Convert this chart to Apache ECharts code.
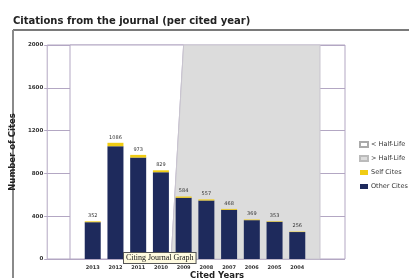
<!DOCTYPE html>
<html>
<head>
<meta charset="utf-8">
<script src="https://cdn.jsdelivr.net/npm/echarts@6/dist/echarts.min.js"></script>
<style>
  html, body { margin: 0; padding: 0; background: #fff; }
  #chart { width: 409px; height: 278px; }
</style>
</head>
<body>
<div id="chart"></div>
<script>
  // cited years, left to right
  const years = ['2013', '2012', '2011', '2010', '2009', '2008', '2007', '2006', '2005', '2004'];
  const otherCites = [344, 1054, 948, 811, 572, 547, 460, 363, 348, 252];
  const selfCites = [8, 32, 25, 18, 12, 10, 8, 6, 5, 4];
  const yTicks = { min: 0, max: 2000, interval: 400 };
  // half-life boundary (in cited-year index units): at the bottom and at the top
  const halfLifeEdge = [3.45, 4.0];
  const xRange = [-1, 10];

  const totals = otherCites.map((v, i) => v + selfCites[i]);
  // blank slot on each side of the years, as in the original graph
  const slots = [''].concat(years, ['']);
  const gridColor = '#b3a7c3';

  let chart = echarts.init(document.getElementById('chart'));

  function halfLifeArea(side) {
    return function (params, api) {
      let b = api.value(0), t = api.value(1);
      let pts = side === 'lt'
        ? [[xRange[0], yTicks.min], [xRange[0], yTicks.max], [t, yTicks.max], [b, yTicks.min]]
        : [[b, yTicks.min], [t, yTicks.max], [xRange[1], yTicks.max], [xRange[1], yTicks.min]];
      return {
        type: 'polygon',
        shape: { points: pts.map(p => api.coord(p)) },
        style: {
          fill: side === 'lt' ? '#ffffff' : '#dcdcdc',
          stroke: side === 'lt' ? gridColor : '#c9c5cf',
          lineWidth: 1
        }
      };
    };
  }

  let option = {
    animation: false,
    textStyle: { fontFamily: 'DejaVu Sans' },
    legend: {
      orient: 'vertical',
      left: 354,
      top: 136,
      itemWidth: 8,
      itemHeight: 5,
      itemGap: 7,
      icon: 'rect',
      textStyle: { fontSize: 6.5, color: '#333', padding: [0, 0, 0, -2] },
      data: ['< Half-Life', '> Half-Life', 'Self Cites', 'Other Cites']
    },
    grid: [
      { left: 47, top: 45, width: 298, height: 214, show: true, borderColor: gridColor, borderWidth: 1, backgroundColor: '#fff' },
      { left: 70, top: 45, width: 250, height: 214 }
    ],
    xAxis: [
      { gridIndex: 0, type: 'value', min: 0, max: 1, show: false },
      { gridIndex: 1, type: 'value', position: 'top', min: xRange[0], max: xRange[1], show: false },
      {
        gridIndex: 1, type: 'category', position: 'bottom', data: slots, boundaryGap: false,
        axisLine: { show: false }, axisTick: { show: false }, splitLine: { show: false },
        axisLabel: { margin: 6, fontSize: 5, fontWeight: 'bold', color: '#333', interval: 0 }
      }
    ],
    yAxis: [
      {
        gridIndex: 0, type: 'value', min: yTicks.min, max: yTicks.max, interval: yTicks.interval,
        name: 'Number of Cites', nameLocation: 'middle', nameGap: 28,
        nameTextStyle: { fontSize: 8.5, fontWeight: 'bold', color: '#222' },
        axisLine: { show: false },
        axisTick: { show: true, length: 3, lineStyle: { color: gridColor } },
        splitLine: { lineStyle: { color: gridColor, width: 1 } },
        axisLabel: { margin: 4, fontSize: 5.5, fontWeight: 'bold', color: '#333', formatter: v => String(v) }
      },
      { gridIndex: 1, type: 'value', min: yTicks.min, max: yTicks.max, show: false }
    ],
    series: [
      {
        name: '< Half-Life', type: 'custom', xAxisIndex: 1, yAxisIndex: 1,
        itemStyle: { color: '#ffffff', borderColor: '#aaa', borderWidth: 0.6 },
        renderItem: halfLifeArea('lt'),
        data: [halfLifeEdge], z: 1
      },
      {
        name: '> Half-Life', type: 'custom', xAxisIndex: 1, yAxisIndex: 1,
        itemStyle: { color: '#dcdcdc', borderColor: '#bbb', borderWidth: 0.6 },
        renderItem: halfLifeArea('gt'),
        data: [halfLifeEdge], z: 1
      },
      {
        name: 'Other Cites', type: 'bar', stack: 'cites', xAxisIndex: 2, yAxisIndex: 1,
        barWidth: 16, itemStyle: { color: '#1e2a5c' }, z: 3,
        data: [null].concat(otherCites, [null])
      },
      {
        name: 'Self Cites', type: 'bar', stack: 'cites', xAxisIndex: 2, yAxisIndex: 1,
        barWidth: 16, itemStyle: { color: '#f0cc14' }, z: 3,
        label: {
          show: true, position: 'top', distance: 3, fontSize: 5, color: '#333',
          formatter: p => totals[p.dataIndex - 1]
        },
        data: [null].concat(selfCites, [null])
      }
    ],
    graphic: [
      {
        type: 'text', left: 13, top: 16, z: 10,
        style: { text: 'Citations from the journal (per cited year)', fontSize: 10, fontWeight: 'bold', fill: '#222', fontFamily: 'DejaVu Sans' }
      },
      { type: 'line', shape: { x1: 13, y1: 30, x2: 409, y2: 30 }, style: { stroke: '#7a7a7a', lineWidth: 2 } },
      { type: 'line', shape: { x1: 13, y1: 30, x2: 13, y2: 278 }, style: { stroke: '#8a8a8a', lineWidth: 2 } },
      {
        type: 'text', left: 190, top: 271, z: 10,
        style: { text: 'Cited Years', fontSize: 8.5, fontWeight: 'bold', fill: '#222', fontFamily: 'DejaVu Sans' }
      },
      {
        type: 'text', left: 123, top: 252, z: 20,
        style: {
          text: 'Citing Journal Graph', fontSize: 8, fill: '#111', fontFamily: 'Liberation Serif',
          backgroundColor: '#fffbe0', borderColor: '#555', borderWidth: 1, padding: [1, 2, 1, 2]
        }
      }
    ]
  };

  chart.setOption(option);
</script>
</body>
</html>
